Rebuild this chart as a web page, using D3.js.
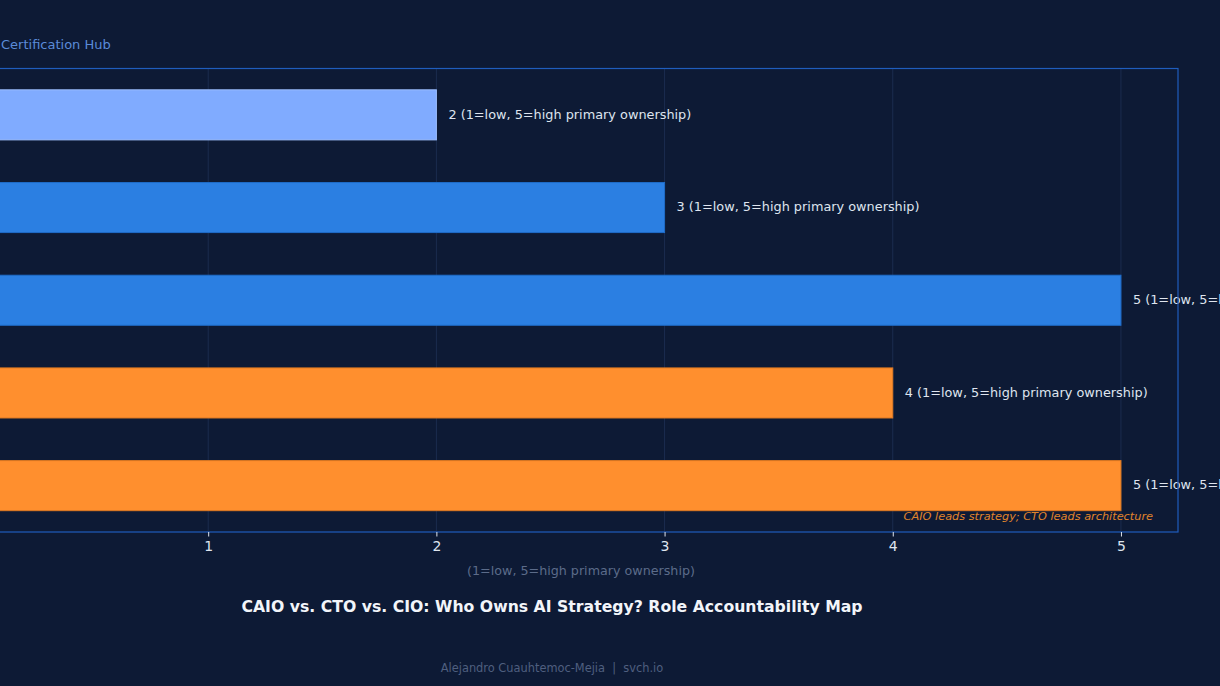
<!DOCTYPE html>
<html>
<head>
<meta charset="utf-8">
<script src="https://cdn.jsdelivr.net/npm/d3@7"></script>
<style>
  html, body { margin: 0; padding: 0; background: #0d1a35; overflow: hidden; }
  svg { display: block; font-family: "DejaVu Sans", sans-serif; }
</style>
</head>
<body>
<div id="chart"></div>
<script>
// Data
var roles = ["Data Governance", "IT Operations", "AI Platform Architecture", "AI Use-Case Portfolio", "Enterprise AI Strategy"];
var scores = [2, 3, 5, 4, 5];
var barColors = ["#80abff", "#2b7fe2", "#2b7fe2", "#ff8f2e", "#ff8f2e"];
var edgeColors = ["#9dbfff", "#1f6cc8", "#1f6cc8", "#e07a22", "#e07a22"];
var xTicks = [1, 2, 3, 4, 5];
var valueSuffix = " (1=low, 5=high primary ownership)";

// SVG size
var svgWidth = 1220;
var svgHeight = 686;

// Plot area (left edge sits off-screen, like the source figure)
var margin = { top: 68.5, left: -20 };
var width = 1178 - margin.left;
var height = 532 - margin.top;

var svg = d3.select("#chart")
  .append("svg")
  .attr("width", svgWidth)
  .attr("height", svgHeight);

svg.append("rect")
  .attr("width", svgWidth)
  .attr("height", svgHeight)
  .attr("fill", "#0d1a35");

var chartGroup = svg.append("g")
  .attr("transform", `translate(${margin.left}, ${margin.top})`);

// Scales
var xLinearScale = d3.scaleLinear()
  .domain([0, 5.25])
  .range([0, width]);

var yBandScale = d3.scaleBand()
  .domain(roles)
  .range([0, height])
  .paddingInner(0.46)
  .paddingOuter(0.23);

// Grid lines
chartGroup.selectAll(".grid")
  .data(xTicks)
  .enter()
  .append("line")
  .attr("class", "grid")
  .attr("x1", d => xLinearScale(d))
  .attr("x2", d => xLinearScale(d))
  .attr("y1", 0)
  .attr("y2", height)
  .attr("stroke", "#1b2c4f")
  .attr("stroke-width", 1);

// Bars
chartGroup.selectAll(".bar")
  .data(roles)
  .enter()
  .append("rect")
  .attr("class", "bar")
  .attr("x", xLinearScale(0))
  .attr("y", d => yBandScale(d))
  .attr("width", (d, i) => xLinearScale(scores[i]) - xLinearScale(0))
  .attr("height", yBandScale.bandwidth())
  .attr("fill", (d, i) => barColors[i])
  .attr("stroke", (d, i) => edgeColors[i])
  .attr("stroke-width", 1);

// Value labels
chartGroup.selectAll(".value")
  .data(roles)
  .enter()
  .append("text")
  .attr("class", "value")
  .attr("x", (d, i) => xLinearScale(scores[i]) + 12)
  .attr("y", d => yBandScale(d) + yBandScale.bandwidth() / 2 + 3.8)
  .attr("fill", "#dfe5ef")
  .attr("font-size", "12.85px")
  .text((d, i) => scores[i] + valueSuffix);

// Frame
chartGroup.append("rect")
  .attr("x", 0)
  .attr("y", 0)
  .attr("width", width)
  .attr("height", height)
  .attr("fill", "none")
  .attr("stroke", "#1f5dbd")
  .attr("stroke-width", 1.2);

// Axes
var bottomAxis = d3.axisBottom(xLinearScale)
  .tickValues(xTicks)
  .tickFormat(d3.format("d"))
  .tickSize(4.5)
  .tickPadding(5);

var xAxis = chartGroup.append("g")
  .attr("transform", `translate(0, ${height})`)
  .call(bottomAxis);
xAxis.select(".domain").remove();
xAxis.selectAll("line").attr("stroke", "#dfe5ef");
xAxis.selectAll("text")
  .attr("fill", "#dfe5ef")
  .attr("font-size", "14px")
  .attr("font-family", "DejaVu Sans, sans-serif");

// Annotation
chartGroup.append("text")
  .attr("x", width - 25)
  .attr("y", height - 12)
  .attr("text-anchor", "end")
  .attr("fill", "#e0842c")
  .attr("font-size", "11.3px")
  .attr("font-style", "italic")
  .text("CAIO leads strategy; CTO leads architecture");

// Axis label
chartGroup.append("text")
  .attr("x", width / 2 + 2)
  .attr("y", height + 43)
  .attr("text-anchor", "middle")
  .attr("fill", "#5c6c8a")
  .attr("font-size", "12.7px")
  .text("(1=low, 5=high primary ownership)");

// Subtitle, title, footer
svg.append("text")
  .attr("x", 1)
  .attr("y", 49)
  .attr("fill", "#5b8bd8")
  .attr("font-size", "13px")
  .text("Certification Hub");

svg.append("text")
  .attr("x", 552)
  .attr("y", 612)
  .attr("text-anchor", "middle")
  .attr("fill", "#f2f5fa")
  .attr("font-size", "15.7px")
  .attr("font-weight", "bold")
  .text("CAIO vs. CTO vs. CIO: Who Owns AI Strategy? Role Accountability Map");

svg.append("text")
  .attr("x", 552)
  .attr("y", 672)
  .attr("text-anchor", "middle")
  .attr("fill", "#4f5f7f")
  .attr("font-size", "11.4px")
  .style("white-space", "pre")
  .text("Alejandro Cuauhtemoc-Mejia  |  svch.io");
</script>
</body>
</html>
